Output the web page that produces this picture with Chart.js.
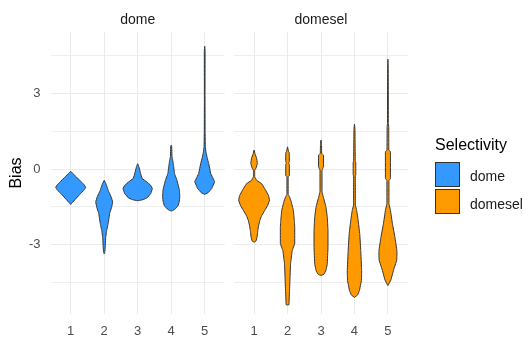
<!DOCTYPE html>
<html>
<head>
<meta charset="utf-8">
<script src="https://cdn.jsdelivr.net/npm/chart.js@4/dist/chart.umd.min.js"></script>
<style>
  html, body { margin: 0; padding: 0; background: #ffffff; }
  #wrap { position: relative; width: 528px; height: 338px; overflow: hidden;
          font-family: "Liberation Sans", Arial, sans-serif; }
  #wrap canvas { position: absolute; left: 0; top: 0; }
  .lg { position: absolute; white-space: nowrap; }
  .key { position: absolute; width: 25px; height: 25px; box-sizing: border-box; border: 1px solid #333333; }
</style>
</head>
<body>
<div id="wrap">
  <canvas id="domePanel" width="528" height="338"></canvas>
  <canvas id="domeselPanel" width="528" height="338"></canvas>
  <div id="legend"></div>
</div>
<script>
// Groups on the x axis, facets and their fill colours
const groups = [1, 2, 3, 4, 5];
const panels = ['dome', 'domesel'];
const panelColors = ['#3399FF', '#FF9900'];
const legendTitle = 'Selectivity';
const yTitle = 'Bias';

// y axis: gridlines every 1.5, labels every 3
const biasTicks = [-4.5, -3, -1.5, 0, 1.5, 3, 4.5];
const biasLabels = [-3, 0, 3];
const biasMin = -5.75;
const biasMax = 5.45;

// Violin profiles: [bias, half-width in group units], top to bottom
const dome1 = [[-0.08, 0], [-0.15, 0.045], [-0.3, 0.164], [-0.5, 0.313], [-0.62, 0.403], [-0.72, 0.448],
               [-0.82, 0.403], [-1.0, 0.269], [-1.2, 0.134], [-1.33, 0.045], [-1.4, 0]];
const dome2 = [[-0.44, 0], [-0.6, 0.06], [-0.84, 0.119], [-1.1, 0.209], [-1.3, 0.254], [-1.5, 0.224],
               [-1.75, 0.164], [-2.15, 0.119], [-2.43, 0.075], [-2.7, 0.045], [-3.1, 0.03], [-3.3, 0.018], [-3.36, 0]];
const dome3 = [[0.22, 0], [0.1, 0.036], [-0.1, 0.075], [-0.25, 0.104], [-0.37, 0.134], [-0.5, 0.269],
               [-0.64, 0.388], [-0.77, 0.439], [-0.97, 0.388], [-1.13, 0.284], [-1.2, 0.179], [-1.24, 0.06], [-1.25, 0]];
const dome4 = [[0.96, 0], [0.9, 0.015], [0.5, 0.024], [0.36, 0.045], [0.1, 0.075], [-0.17, 0.099], [-0.44, 0.173],
               [-0.84, 0.248], [-1.1, 0.257], [-1.3, 0.239], [-1.45, 0.203], [-1.58, 0.119], [-1.64, 0.045], [-1.66, 0]];
const dome5 = [[4.88, 0], [4.7, 0.012], [3.0, 0.009], [1.5, 0.012], [0.9, 0.018], [0.69, 0.036], [0.45, 0.075],
               [0.23, 0.119], [-0.17, 0.179], [-0.5, 0.299], [-0.77, 0.209], [-0.93, 0.104], [-0.98, 0.03], [-1.0, 0]];

const domesel1 = [[0.76, 0], [0.6, 0.03], [0.45, 0.075], [0.23, 0.099], [0.05, 0.06], [-0.04, 0.018], [-0.3, 0.018],
                  [-0.44, 0.075], [-0.57, 0.224], [-0.84, 0.349], [-1.05, 0.433], [-1.23, 0.463], [-1.45, 0.403],
                  [-1.63, 0.322], [-1.85, 0.224], [-2.03, 0.173], [-2.25, 0.134], [-2.43, 0.113], [-2.7, 0.09],
                  [-2.85, 0.06], [-2.9, 0]];
const domesel2 = [[0.89, 0], [0.7, 0.03], [0.65, 0.054], [0.3, 0.054], [0.24, 0.036], [0.18, 0.054], [-0.25, 0.054],
                  [-0.3, 0.018], [-1.0, 0.018], [-1.1, 0.06], [-1.3, 0.113], [-1.63, 0.173], [-2.03, 0.203],
                  [-2.3, 0.215], [-2.96, 0.215], [-3.23, 0.14], [-3.75, 0.09], [-4.29, 0.075], [-4.82, 0.06],
                  [-5.3, 0.045], [-5.38, 0.045], [-5.39, 0]];
const domesel3 = [[1.16, 0], [1.0, 0.015], [0.63, 0.021], [0.56, 0.075], [0.1, 0.075], [-0.04, 0.03], [-0.9, 0.03],
                  [-1.1, 0.069], [-1.5, 0.149], [-1.9, 0.188], [-2.43, 0.209], [-3.1, 0.209], [-3.76, 0.188],
                  [-4.02, 0.149], [-4.17, 0.09], [-4.22, 0]];
const domesel4 = [[1.79, 0], [1.6, 0.015], [0.3, 0.024], [0.29, 0.039], [-0.24, 0.039], [-0.25, 0.024], [-1.43, 0.027],
                  [-1.63, 0.066], [-2.03, 0.11], [-2.56, 0.158], [-3.23, 0.188], [-4.02, 0.215], [-4.42, 0.209],
                  [-4.82, 0.149], [-5.0, 0.09], [-5.09, 0]];
const domesel5 = [[4.37, 0], [4.0, 0.009], [1.82, 0.012], [1.7, 0.024], [0.76, 0.027], [0.7, 0.075], [-0.37, 0.075],
                  [-0.45, 0.03], [-1.37, 0.03], [-1.63, 0.075], [-2.16, 0.134], [-2.7, 0.209], [-3.23, 0.269],
                  [-3.5, 0.269], [-3.63, 0.26], [-4.02, 0.164], [-4.4, 0.09], [-4.62, 0]];

const domeViolins = [dome1, dome2, dome3, dome4, dome5];
const domeselViolins = [domesel1, domesel2, domesel3, domesel4, domesel5];

const FONT = '"Liberation Sans", Arial, sans-serif';

// Closed outline: down the right side, back up the left side
function outline(profile, center) {
  const right = profile.map(([y, w]) => ({ x: center + w, y }));
  const left = profile.slice().reverse().map(([y, w]) => ({ x: center - w, y }));
  return right.concat(left);
}

function gridStyle() {
  return {
    drawTicks: false,
    color: '#EBEBEB',
    lineWidth: (ctx) => (ctx.tick && biasLabels.includes(ctx.tick.value)) ? 1.1 : 0.8
  };
}

function makePanel(canvasId, name, violins, color, withAxis, padding) {
  return new Chart(document.getElementById(canvasId), {
    type: 'line',
    data: {
      datasets: violins.map((profile, i) => ({
        label: name,
        data: outline(profile, groups[i]),
        fill: 'shape',
        backgroundColor: color,
        borderColor: '#333333',
        borderWidth: 1,
        pointRadius: 0,
        // a tiny tension keeps the full path renderer (points are not x-sorted)
        tension: 0.0001
      }))
    },
    options: {
      responsive: false,
      animation: false,
      devicePixelRatio: 1,
      layout: { padding },
      plugins: {
        legend: { display: false },
        tooltip: { enabled: false },
        title: {
          display: true,
          text: name,
          fullSize: false,
          color: '#1A1A1A',
          font: { family: FONT, size: 14, weight: 'normal', lineHeight: 1.2 },
          padding: { top: 12.2, bottom: 3 }
        }
      },
      scales: {
        x: {
          type: 'linear',
          min: 0.4,
          max: 5.6,
          afterBuildTicks: (s) => { s.ticks = groups.map(v => ({ value: v })); },
          afterFit: (s) => { s.height = 24; },
          grid: { drawTicks: false, color: '#EBEBEB', lineWidth: 1 },
          border: { display: false },
          ticks: { color: '#4D4D4D', font: { family: FONT, size: 13 }, padding: 10, maxRotation: 0 }
        },
        y: {
          type: 'linear',
          min: biasMin,
          max: biasMax,
          afterBuildTicks: (s) => { s.ticks = biasTicks.map(v => ({ value: v })); },
          afterFit: (s) => { s.width = withAxis ? 50.6 : 0; },
          grid: gridStyle(),
          border: { display: false },
          ticks: {
            display: withAxis,
            color: '#4D4D4D',
            font: { family: FONT, size: 13 },
            padding: 10,
            callback: (v) => biasLabels.includes(v) ? String(v) : ''
          },
          title: {
            display: withAxis,
            text: yTitle,
            color: '#000000',
            font: { family: FONT, size: 16, lineHeight: 1.2 },
            padding: { top: 7.4, bottom: 0 }
          }
        }
      }
    }
  });
}

makePanel('domePanel', panels[0], domeViolins, panelColors[0], true, { left: 0, right: 303.2, top: 0, bottom: 0 });
makePanel('domeselPanel', panels[1], domeselViolins, panelColors[1], false, { left: 234, right: 120, top: 0, bottom: 0 });

// Legend for the fill colours
const legend = document.getElementById('legend');
const title = document.createElement('div');
title.className = 'lg';
title.textContent = legendTitle;
title.style.cssText = 'left:435px;top:136.5px;font-size:16px;line-height:16px;color:#000;';
legend.appendChild(title);
panels.forEach((name, i) => {
  const key = document.createElement('div');
  key.className = 'key';
  key.style.left = '435px';
  key.style.top = (161.7 + i * 27.3) + 'px';
  key.style.background = panelColors[i];
  legend.appendChild(key);
  const label = document.createElement('div');
  label.className = 'lg';
  label.textContent = name;
  label.style.cssText = 'left:470px;top:' + (169.2 + i * 27.3) + 'px;font-size:14px;line-height:14px;color:#1A1A1A;';
  legend.appendChild(label);
});
</script>
</body>
</html>
